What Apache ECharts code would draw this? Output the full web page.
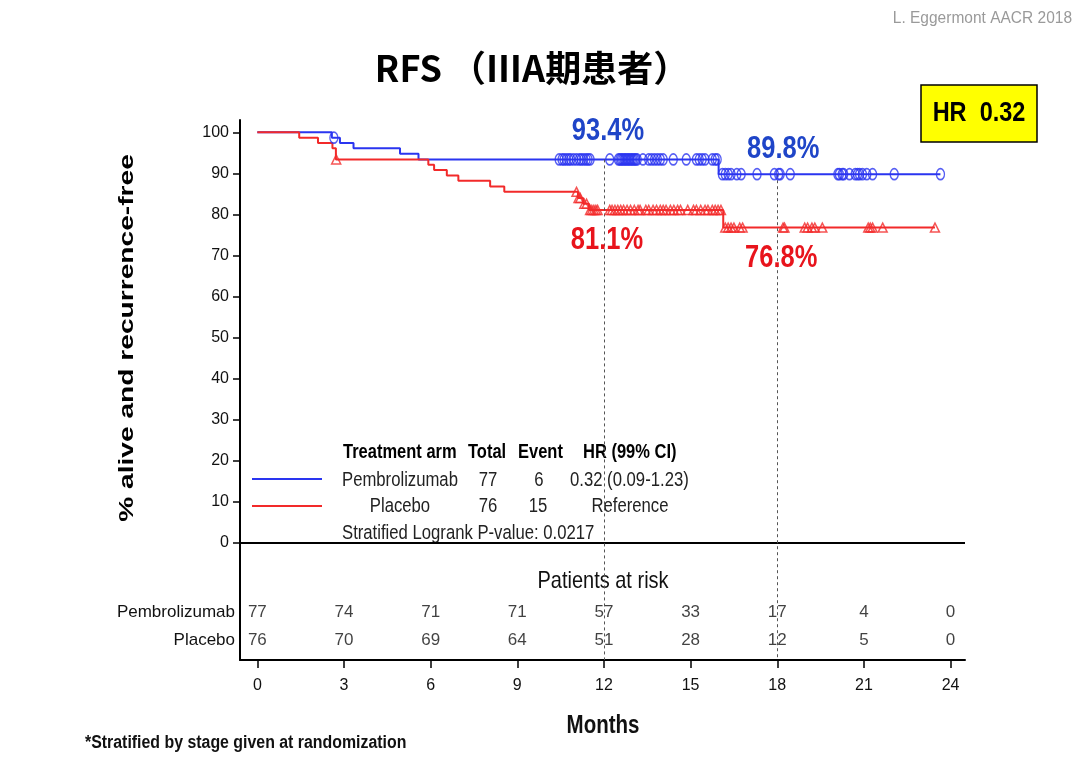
<!DOCTYPE html>
<html lang="zh">
<head>
    <meta charset="UTF-8">
    <title>RFS（ⅢA期患者）</title>
    <script src="https://cdn.jsdelivr.net/npm/echarts@6.0.0/dist/echarts.min.js"></script>
    <style>
        html, body { margin: 0; padding: 0; background: #ffffff; }
        #chart { width: 1080px; height: 758px; }
    </style>
</head>
<body>
<div id="chart"></div>
<script type="text/javascript">
    // KM 曲线：事件发生时刻（月）与发生后的生存率（%）
    const pembroTimes = [0, 2.58, 2.86, 3.33, 4.94, 5.58, 15.97, 23.65];
    const pembroSurv = [100, 98.7, 97.4, 96.1, 94.8, 93.4, 89.8, 89.8];
    const placeboTimes = [0, 1.45, 2.1, 2.6, 2.72, 5.92, 6.12, 6.56, 6.96, 8.06, 8.55, 11.1, 11.28, 11.48, 16.13, 23.46];
    const placeboSurv = [100, 98.7, 97.4, 96.1, 93.4, 92.1, 90.8, 89.5, 88.2, 86.8, 85.5, 84.0, 82.6, 81.1, 76.8, 76.8];

    // 删失时刻（月）
    const pembroCensor = [2.65,
        10.45, 10.55, 10.62, 10.7, 10.78, 10.85, 10.95, 11.05, 11.15, 11.22, 11.3, 11.38, 11.45, 11.52,
        12.2, 12.5, 12.55, 12.6, 12.65, 12.7, 12.75, 12.8, 12.85, 12.9, 12.95, 13.0, 13.05, 13.1, 13.15,
        13.35, 13.55, 13.65, 13.75, 13.85, 13.95, 14.05, 14.4, 14.85,
        15.2, 15.3, 15.4, 15.5, 15.75, 15.85, 15.92, 16.1, 16.2, 16.3, 16.4, 16.6, 16.75, 17.3, 17.9,
        18.05, 18.1, 18.45, 20.1, 20.15, 20.25, 20.3, 20.5, 20.7, 20.78, 20.85, 20.95,
        21.1, 21.3, 22.05, 23.65];
    const placeboCensor = [2.73,
        11.05, 11.12, 11.18, 11.32, 11.4, 11.52, 11.58, 11.65, 11.72, 11.78,
        12.2, 12.28, 12.38, 12.48, 12.58, 12.68, 12.8, 12.92, 13.05, 13.18, 13.25, 13.45, 13.55, 13.7,
        13.82, 13.95, 14.05, 14.15, 14.3, 14.42, 14.55, 14.65, 14.9,
        15.1, 15.2, 15.35, 15.5, 15.6, 15.75, 15.85, 15.95, 16.05, 16.2, 16.3, 16.4, 16.5, 16.7, 16.8,
        18.2, 18.25, 18.95, 19.05, 19.2, 19.3, 19.56,
        21.15, 21.22, 21.3, 21.65, 23.46];

    // 12 / 18 个月标志点
    const landmarkMonths = [12, 18];
    const pembroLandmark = [93.4, 89.8];
    const placeboLandmark = [81.1, 76.8];

    // 风险人数表
    const riskMonths = [0, 3, 6, 9, 12, 15, 18, 21, 24];
    const riskPembro = [77, 74, 71, 71, 57, 33, 17, 4, 0];
    const riskPlacebo = [76, 70, 69, 64, 51, 28, 12, 5, 0];

    // 坐标刻度
    const xTicks = [0, 3, 6, 9, 12, 15, 18, 21, 24];
    const yTicks = [0, 10, 20, 30, 40, 50, 60, 70, 80, 90, 100];

    const X_MIN = -0.6, X_MAX = 24.5;
    const Y_MIN = -28.5, Y_MAX = 103;

    const BLUE = '#2a35f0', RED = '#f22a2a';
    const BLUE_TEXT = '#1f45c8', RED_TEXT = '#e8141c';
    const SANS = '"Liberation Sans", Arial, sans-serif';
    const STRETCH = 1.2; // 原图整体被纵向拉伸

    // 标志点标签相对曲线点的偏移
    const pembroLabelOffset = [[4, -28], [6, -25]];
    const placeboLabelOffset = [[3, 31], [4, 31]];

    function levelAt(times, surv, t) {
        let v = surv[0];
        for (let i = 0; i < times.length; i++) {
            if (times[i] <= t) v = surv[i];
        }
        return v;
    }

    function zip(a, b) {
        return a.map((v, i) => [v, b[i]]);
    }

    // 带纵向拉伸的文字
    function txt(x, y, text, font, fill, align, sy) {
        return {
            type: 'text', x: x, y: y, scaleY: sy || STRETCH,
            style: {text: text, font: font, fill: fill || '#111', textAlign: align || 'left', textVerticalAlign: 'middle'}
        };
    }

    function landmarkSeries(months, values, offsets, color) {
        return {
            type: 'custom', xAxisIndex: 0, yAxisIndex: 0, silent: true, z: 6,
            data: zip(months, values),
            renderItem: function (params, api) {
                const p = api.coord([api.value(0), api.value(1)]);
                const off = offsets[params.dataIndex];
                return {
                    type: 'text', x: p[0] + off[0], y: p[1] + off[1], scaleY: STRETCH,
                    style: {text: api.value(1) + '%', font: 'bold 25.5px ' + SANS, fill: color,
                        textAlign: 'center', textVerticalAlign: 'middle'}
                };
            }
        };
    }

    let myChart = echarts.init(document.getElementById('chart'));

    let option = {
        animation: false,
        backgroundColor: '#ffffff',
        grid: [
            {left: 240, right: 115, top: 120, bottom: 98},
            {left: 240, right: 115, top: 598, height: 56}
        ],
        xAxis: [
            {
                gridIndex: 0, type: 'value', min: X_MIN, max: X_MAX,
                axisLine: {show: true, onZero: false, lineStyle: {color: '#000', width: 2}},
                axisTick: {show: true, length: 8, customValues: xTicks, lineStyle: {color: '#000', width: 1.5}},
                axisLabel: {customValues: xTicks, margin: 18, fontSize: 16, color: '#111', fontFamily: SANS},
                splitLine: {show: false}
            },
            {gridIndex: 1, type: 'value', min: X_MIN, max: X_MAX, show: false}
        ],
        yAxis: [
            {
                gridIndex: 0, type: 'value', min: Y_MIN, max: Y_MAX,
                axisLine: {show: true, onZero: false, lineStyle: {color: '#000', width: 2}},
                axisTick: {show: true, length: 7, customValues: yTicks, lineStyle: {color: '#000', width: 1.5}},
                axisLabel: {customValues: yTicks, margin: 11, fontSize: 16, color: '#111', fontFamily: SANS},
                splitLine: {show: false}
            },
            {
                gridIndex: 1, type: 'category', data: ['Placebo', 'Pembrolizumab'],
                axisLine: {show: false}, axisTick: {show: false},
                axisLabel: {margin: 5, fontSize: 17, color: '#111', fontFamily: SANS},
                splitLine: {show: false}
            }
        ],
        series: [
            {
                name: 'Pembrolizumab', type: 'line', step: 'end',
                xAxisIndex: 0, yAxisIndex: 0,
                data: zip(pembroTimes, pembroSurv),
                showSymbol: false, z: 3,
                lineStyle: {color: BLUE, width: 2},
                markLine: {
                    silent: true, symbol: 'none', label: {show: false},
                    data: [
                        {yAxis: 0, lineStyle: {color: '#000', width: 2, type: 'solid'}}
                    ].concat(landmarkMonths.map((m, i) => [
                        {coord: [m, pembroLandmark[i]], lineStyle: {color: '#555', width: 1, type: [3, 3]}},
                        {coord: [m, Y_MIN]}
                    ]))
                }
            },
            {
                name: 'Placebo', type: 'line', step: 'end',
                xAxisIndex: 0, yAxisIndex: 0,
                data: zip(placeboTimes, placeboSurv),
                showSymbol: false, z: 4,
                lineStyle: {color: RED, width: 2}
            },
            {
                name: 'Pembrolizumab censored', type: 'scatter',
                xAxisIndex: 0, yAxisIndex: 0, z: 5, silent: true,
                symbol: 'circle', symbolSize: [8, 11],
                itemStyle: {color: 'rgba(0,0,0,0)', borderColor: BLUE, borderWidth: 1.5},
                data: pembroCensor.map(t => [t, levelAt(pembroTimes, pembroSurv, t)])
            },
            {
                name: 'Placebo censored', type: 'scatter',
                xAxisIndex: 0, yAxisIndex: 0, z: 5, silent: true,
                symbol: 'triangle', symbolSize: [9, 9],
                itemStyle: {color: 'rgba(0,0,0,0)', borderColor: RED, borderWidth: 1.5},
                data: placeboCensor.map(t => [t, levelAt(placeboTimes, placeboSurv, t)])
            },
            landmarkSeries(landmarkMonths, pembroLandmark, pembroLabelOffset, BLUE_TEXT),
            landmarkSeries(landmarkMonths, placeboLandmark, placeboLabelOffset, RED_TEXT),
            {
                name: 'risk pembro', type: 'scatter',
                xAxisIndex: 1, yAxisIndex: 1, symbolSize: 0, silent: true,
                label: {show: true, position: 'inside', formatter: p => String(p.value[2]),
                    fontSize: 17, color: '#111', fontFamily: SANS},
                data: riskMonths.map((m, i) => [m, 'Pembrolizumab', riskPembro[i]])
            },
            {
                name: 'risk placebo', type: 'scatter',
                xAxisIndex: 1, yAxisIndex: 1, symbolSize: 0, silent: true,
                label: {show: true, position: 'inside', formatter: p => String(p.value[2]),
                    fontSize: 17, color: '#111', fontFamily: SANS},
                data: riskMonths.map((m, i) => [m, 'Placebo', riskPlacebo[i]])
            }
        ],
        graphic: [
            txt(1072, 18, 'L. Eggermont AACR 2018', '15.5px ' + SANS, '#9a9a9a', 'right', 1.1),
            {type: 'text', x: 532, y: 68, style: {text: 'RFS （ⅢA期患者）', textAlign: 'center', textVerticalAlign: 'middle',
                    fill: '#000', font: 'bold 36px "Noto Sans CJK SC", sans-serif'}},
            {type: 'rect', shape: {x: 921, y: 85, width: 116, height: 57},
                style: {fill: '#ffff00', stroke: '#000', lineWidth: 1.5}},
            txt(979, 113, 'HR  0.32', 'bold 23.5px ' + SANS, '#000', 'center'),
            {type: 'text', x: 127, y: 338, rotation: Math.PI / 2, scaleX: 1.34,
                style: {text: '% alive and recurrence-free', textAlign: 'center', textVerticalAlign: 'middle',
                    fill: '#000', font: 'bold 21px ' + SANS}},
            // 图例表
            txt(343, 453, 'Treatment arm', 'bold 16.5px ' + SANS, '#000'),
            txt(468, 453, 'Total', 'bold 16.5px ' + SANS, '#000'),
            txt(518, 453, 'Event', 'bold 16.5px ' + SANS, '#000'),
            txt(583, 453, 'HR (99% CI)', 'bold 16.5px ' + SANS, '#000'),
            {type: 'line', shape: {x1: 252, y1: 479, x2: 322, y2: 479}, style: {stroke: BLUE, lineWidth: 2}},
            txt(342, 480, 'Pembrolizumab', '16.7px ' + SANS, '#222'),
            txt(488, 480, '77', '16.7px ' + SANS, '#222', 'center'),
            txt(539, 480, '6', '16.7px ' + SANS, '#222', 'center'),
            txt(570, 480, '0.32 (0.09-1.23)', '16.7px ' + SANS, '#222'),
            {type: 'line', shape: {x1: 252, y1: 506, x2: 322, y2: 506}, style: {stroke: RED, lineWidth: 2}},
            txt(400, 506, 'Placebo', '16.7px ' + SANS, '#222', 'center'),
            txt(488, 506, '76', '16.7px ' + SANS, '#222', 'center'),
            txt(538, 506, '15', '16.7px ' + SANS, '#222', 'center'),
            txt(630, 506, 'Reference', '16.7px ' + SANS, '#222', 'center'),
            txt(342, 533, 'Stratified Logrank P-value: 0.0217', '16.7px ' + SANS, '#222'),
            // 风险表标题、横轴标题与脚注
            txt(603, 581, 'Patients at risk', '20px ' + SANS, '#111', 'center'),
            txt(603, 726, 'Months', 'bold 20.5px ' + SANS, '#111', 'center', 1.25),
            txt(85, 743, '*Stratified by stage given at randomization', 'bold 15.9px ' + SANS, '#111', 'left', 1.1)
        ]
    };

    myChart.setOption(option, true);
</script>
</body>
</html>
